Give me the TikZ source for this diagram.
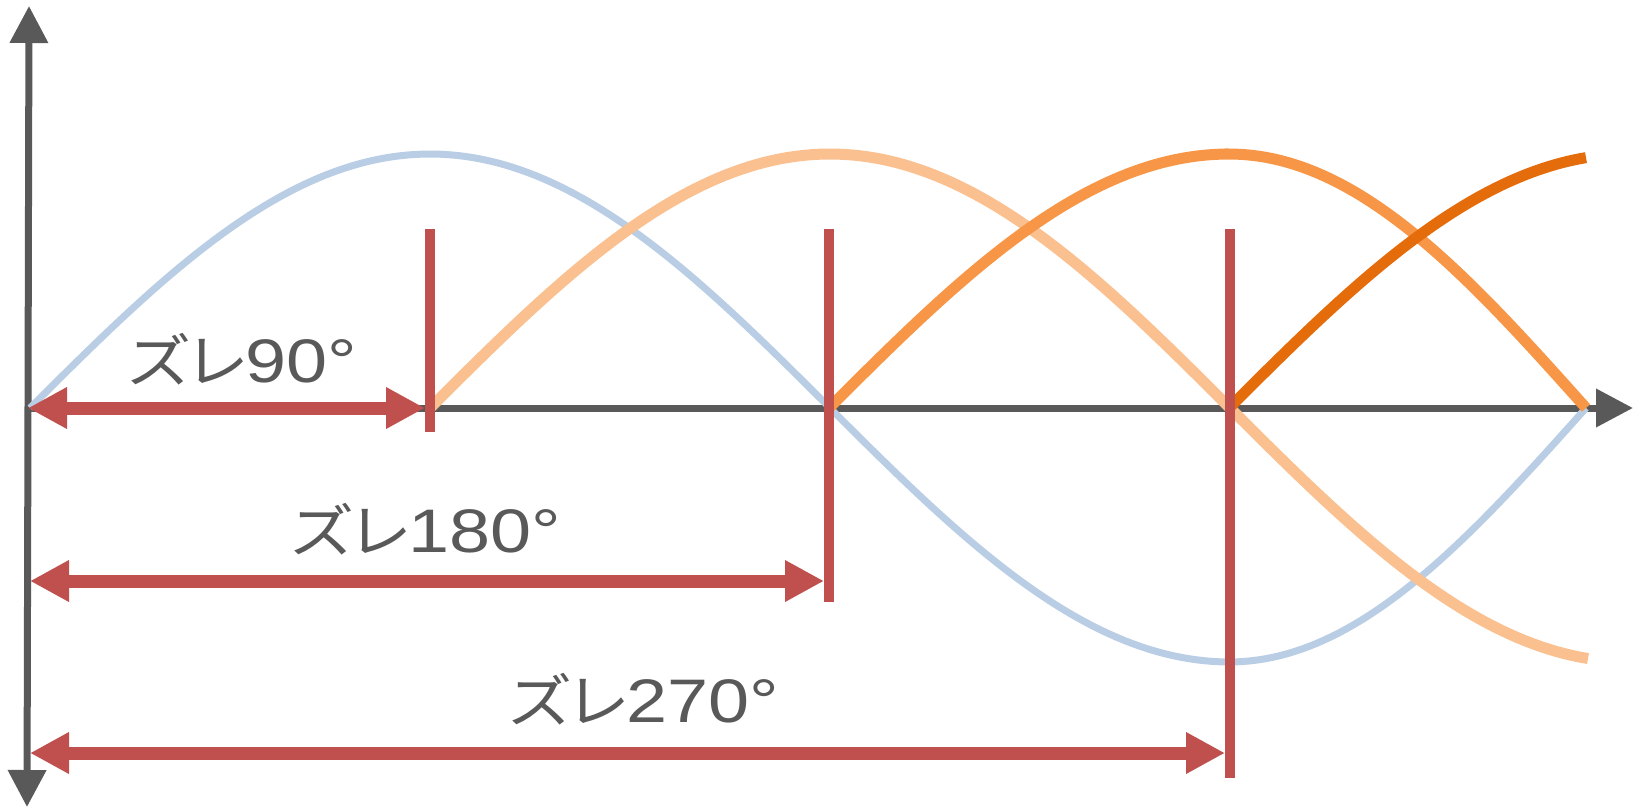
\documentclass[tikz,border=0pt]{standalone}
\usepackage{fontspec}
\usepackage{graphicx}
\newfontfamily\jpfont[RawFeature=+palt]{Noto Sans CJK JP}
\newfontfamily\numfont{Liberation Sans}
\usetikzlibrary{arrows.meta}
\definecolor{axisgray}{HTML}{595959}
\definecolor{redc}{HTML}{C0504D}
\definecolor{bluec}{HTML}{B9CDE5}
\definecolor{lorange}{HTML}{FAC090}
\definecolor{morange}{HTML}{F79646}
\definecolor{dorange}{HTML}{E46C0A}
\newcommand\zure[1]{\scalebox{1.12}[1]{\jpfont\fontsize{58}{64}\selectfont ズレ}\scalebox{1.2}[1]{\numfont\fontsize{61.5}{70}\selectfont #1°}}
\tikzset{
  axisline/.style={draw=axisgray, line width=7pt, -{Triangle[length=37pt,width=37pt]}},
  markline/.style={draw=redc, line width=10pt},
  shiftarrow/.style={draw=redc, line width=13pt, {Triangle[length=39pt,width=39pt]}-{Triangle[length=39pt,width=39pt]}},
  wave/.style={line width=11pt},
  lbl/.style={anchor=base west, inner sep=0pt, text=axisgray}
}
\begin{document}
\begin{tikzpicture}[x=1pt,y=-1pt]
\useasboundingbox (0,0) rectangle (1636,809);
% axes
\coordinate (vtop) at (29,6);
\coordinate (vbot) at (27,807);
\coordinate (origin) at (28,408);
\coordinate (hend) at (1633,408);
\draw[axisline, {Triangle[length=37pt,width=37pt]}-{Triangle[length=37pt,width=37pt]}] (vtop) -- (vbot);
\draw[axisline] (origin) -- (hend);
% waves
\draw[bluec, line width=7pt] plot[domain=30:1229, samples=150] (\x, {408-254*sin(0.225*(\x-30))})
  -- plot[domain=1229:1586, samples=50] (\x, {408+254*cos(0.2521*(\x-1229))});
\draw[wave, lorange] plot[domain=430:1588, samples=150] (\x, {408-254*sin(0.225*(\x-430))});
\draw[wave, morange] plot[domain=829:1229, samples=60] (\x, {408-254*sin(0.225*(\x-829))})
  -- plot[domain=1229:1586, samples=50] (\x, {408-254*cos(0.2521*(\x-1229))});
\draw[wave, dorange] plot[domain=1229:1586, samples=60] (\x, {408-254*sin(0.225*(\x-1229))});
% marker lines
\coordinate (m1t) at (430,229); \coordinate (m1b) at (430,432);
\coordinate (m2t) at (829,229); \coordinate (m2b) at (829,602);
\coordinate (m3t) at (1230,229); \coordinate (m3b) at (1230,778);
\draw[markline] (m1t) -- (m1b);
\draw[markline] (m2t) -- (m2b);
\draw[markline] (m3t) -- (m3b);
% shift arrows
\coordinate (a1l) at (28,408); \coordinate (a1r) at (425,408);
\coordinate (a2l) at (30,581); \coordinate (a2r) at (824,581);
\coordinate (a3l) at (30,753); \coordinate (a3r) at (1225,753);
\draw[shiftarrow] (a1l) -- (a1r);
\draw[shiftarrow] (a2l) -- (a2r);
\draw[shiftarrow] (a3l) -- (a3r);
% labels
\node[lbl] (l90) at (128,382) {\zure{90}};
\node[lbl] (l180) at (291,552) {\zure{180}};
\node[lbl] (l270) at (509,722) {\zure{270}};
\end{tikzpicture}
\end{document}
